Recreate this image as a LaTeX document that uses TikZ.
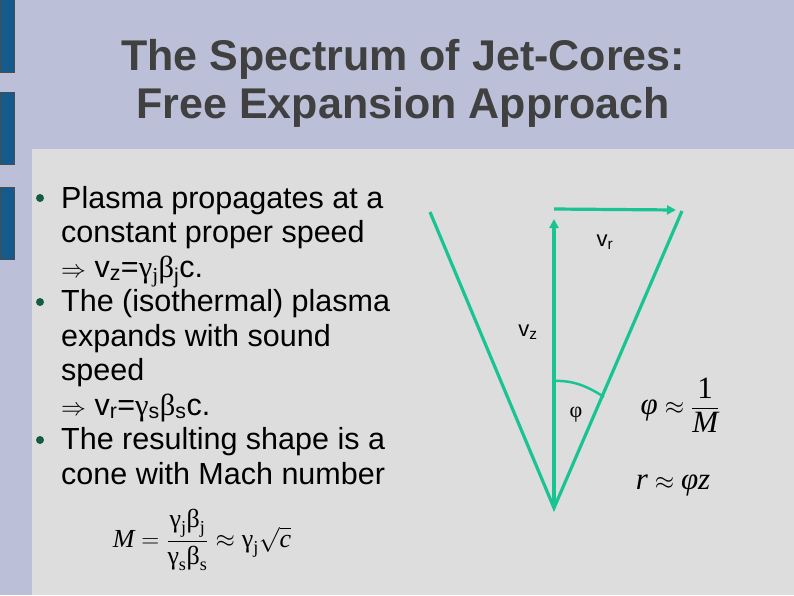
\documentclass[tikz,border=0pt]{standalone}
\usepackage{amsmath}
\usepackage{fontspec}
\setmainfont{Liberation Sans}
\newfontfamily\srf{Liberation Serif}
\usetikzlibrary{arrows.meta}
\definecolor{bgblue}{RGB}{187,191,216}
\definecolor{panel}{RGB}{221,221,221}
\definecolor{barblue}{RGB}{20,90,140}
\definecolor{jet}{RGB}{26,196,146}
\definecolor{dot}{RGB}{20,90,70}
\tikzset{txt/.style={anchor=base west,inner sep=0pt,font=\fontsize{30.5}{34}\selectfont},
 jetline/.style={draw=jet,line width=3.2pt},
 jetarrow/.style={jetline,-{Triangle[length=9pt,width=9pt]}},
 lbl/.style={inner sep=0pt,font=\fontsize{22}{26}\selectfont},
 bar/.style={fill=barblue,draw=black!70,line width=0.5pt}}
\newcommand{\gr}[1]{{\srf #1}}
\newcommand{\tg}[1]{\text{\srf #1}}
\newcommand{\ti}[1]{\text{\srf\itshape #1}}
\begin{document}
\begin{tikzpicture}[x=1pt,y=-1pt]
\useasboundingbox (0,0) rectangle (794,595);
\fill[bgblue] (0,0) rectangle (794,595);
\fill[panel] (32,149) rectangle (794,595);
\draw[bar] (0,-2) rectangle (14,72);
\draw[bar] (0,92) rectangle (14,164);
\draw[bar] (0,187) rectangle (14,259);
\node[font=\bfseries\fontsize{43}{48}\selectfont,align=center,text=black!75] (title) at (403,83) {The Spectrum of Jet-Cores:\\Free Expansion Approach};
\foreach \y in {198,302,440} \fill[dot] (40,\y) circle (4);
\node[txt] (l1) at (61,208) {Plasma propagates at a};
\node[txt] (l2) at (61,242) {constant proper speed};
\node[txt] (l3) at (61,277) {$\Rightarrow$ v\textsubscript{z}=\gr{γ}\textsubscript{\gr{j}}\gr{β}\textsubscript{j}c.};
\node[txt] (l4) at (61,311) {The (isothermal) plasma};
\node[txt] (l5) at (61,346) {expands with sound};
\node[txt] (l6) at (61,380) {speed};
\node[txt] (l7) at (61,415) {$\Rightarrow$ v\textsubscript{r}=\gr{γ}\textsubscript{s}\gr{β}\textsubscript{s}c.};
\node[txt] (l8) at (61,449) {The resulting shape is a};
\node[txt] (l9) at (61,484) {cone with Mach number};
\node[inner sep=0pt,font=\srf\fontsize{26}{30}\selectfont] (mach) at (202,540)
 {$\ti{M} = \dfrac{\tg{γ}_{\tg{j}}\tg{β}_{\tg{j}}}{\tg{γ}_{\tg{s}}\tg{β}_{\tg{s}}} \approx \tg{γ}_{\tg{j}}\sqrt{\ti{c}}$};
% cone
\coordinate (apex) at (554,508);
\coordinate (lt) at (430,212);
\coordinate (rt) at (682,211);
\coordinate (vz) at (554,219);
\coordinate (hs) at (554,209);
\coordinate (he) at (676,210);
\draw[jetline] (lt) -- (apex) -- (rt);
\draw[jetarrow] (apex) -- (vz);
\draw[jetarrow] (hs) -- (he);
\draw[jet,line width=2.5pt] (554,381) .. controls (575,380) and (590,388) .. (604,397);
\node[lbl] (vrl) at (605,242) {v\textsubscript{r}};
\node[lbl] (vzl) at (528,332) {v\textsubscript{z}};
\node[lbl,font=\srf\fontsize{22}{26}\selectfont] (phil) at (576,415) {φ};
\node[inner sep=0pt,font=\srf\fontsize{31}{34}\selectfont] (f1) at (680,405) {$\ti{φ} \approx \dfrac{\tg{1}}{\ti{M}}$};
\node[inner sep=0pt,font=\srf\fontsize{31}{34}\selectfont] (f2) at (673,485) {$\ti{r} \approx \ti{φz}$};
\end{tikzpicture}
\end{document}
